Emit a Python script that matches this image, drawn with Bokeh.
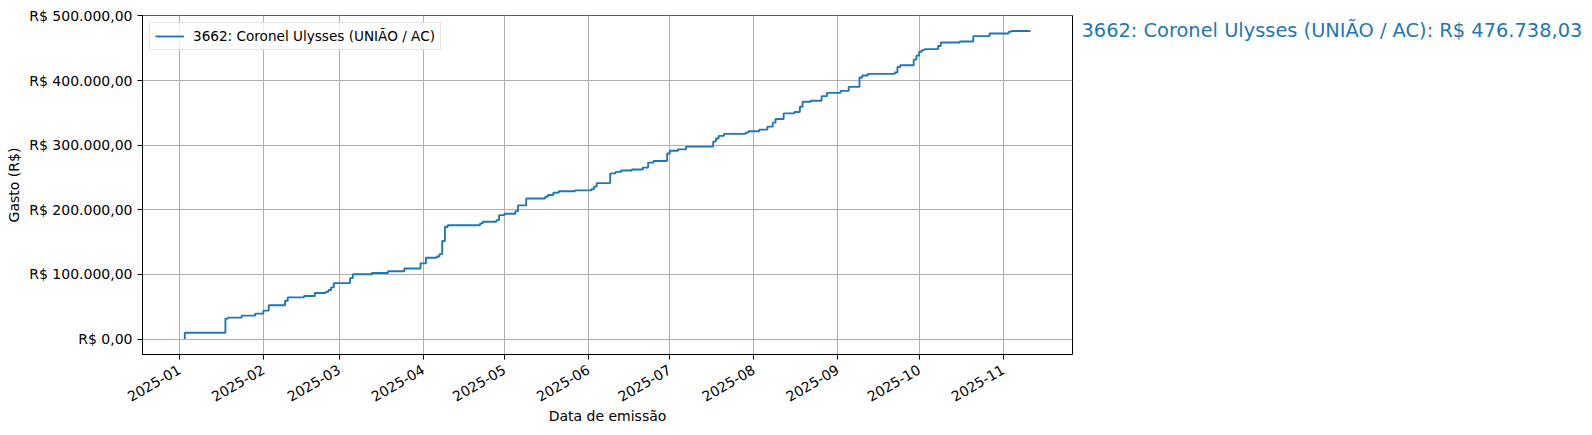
import pandas as pd
from bokeh.plotting import figure
from bokeh.layouts import row
from bokeh.models import Range1d, FixedTicker
from bokeh.core.properties import value
from bokeh.embed import file_html
from bokeh.resources import INLINE

# ---- data ----
dates = [
    "2025-01-03", "2025-01-03", "2025-01-18", "2025-01-19", "2025-01-24", "2025-01-29",
    "2025-02-01", "2025-02-03", "2025-02-09", "2025-02-10", "2025-02-16", "2025-02-20",
    "2025-02-24", "2025-02-25", "2025-02-26", "2025-02-27", "2025-03-05", "2025-03-06",
    "2025-03-13", "2025-03-19", "2025-03-25", "2025-03-31", "2025-04-02", "2025-04-06",
    "2025-04-07", "2025-04-08", "2025-04-09", "2025-04-10", "2025-04-22", "2025-04-23",
    "2025-04-28", "2025-04-29", "2025-05-01", "2025-05-05", "2025-05-06", "2025-05-09",
    "2025-05-16", "2025-05-17", "2025-05-19", "2025-05-21", "2025-05-27", "2025-06-02",
    "2025-06-03", "2025-06-04", "2025-06-09", "2025-06-11", "2025-06-13", "2025-06-17",
    "2025-06-21", "2025-06-23", "2025-06-25", "2025-06-30", "2025-07-01", "2025-07-04",
    "2025-07-07", "2025-07-17", "2025-07-18", "2025-07-19", "2025-07-21", "2025-07-29",
    "2025-07-30", "2025-08-03", "2025-08-06", "2025-08-08", "2025-08-09", "2025-08-12",
    "2025-08-16", "2025-08-18", "2025-08-19", "2025-08-22", "2025-08-26", "2025-08-28",
    "2025-09-02", "2025-09-05", "2025-09-09", "2025-09-10", "2025-09-12", "2025-09-22",
    "2025-09-23", "2025-09-24", "2025-09-29", "2025-09-30", "2025-10-01", "2025-10-02",
    "2025-10-03", "2025-10-08", "2025-10-09", "2025-10-16", "2025-10-21", "2025-10-27",
    "2025-11-03", "2025-11-04", "2025-11-11",
]
cumulative = [
    0, 9700, 31700, 33200, 36300, 39400,
    44000, 52300, 59400, 64600, 66600, 71200,
    73000, 76000, 80000, 86600, 94300, 100300,
    102200, 105000, 109100, 117200, 125800, 127700,
    131400, 151700, 173500, 176000, 179000, 181500,
    184000, 191700, 194000, 197900, 206800, 217600,
    220200, 222800, 226300, 228700, 230000, 231700,
    235800, 241200, 256400, 258600, 260700, 262300,
    265300, 273000, 275600, 287100, 291400, 293500,
    297800, 305500, 310200, 314300, 317400, 319400,
    321500, 324000, 328600, 334800, 340500, 349200,
    351200, 359400, 367100, 368600, 375800, 380900,
    384000, 390200, 404600, 407700, 410200, 412300,
    420900, 423500, 432300, 438500, 444600, 447000,
    448500, 453500, 458700, 460300, 468600, 472800,
    475400, 476500, 476738.03,
]
series_label = "3662: Coronel Ulysses (UNIÃO / AC)"
total_text = "3662: Coronel Ulysses (UNIÃO / AC): R$ 476.738,03"

x_tick_dates = ["2025-01-01", "2025-02-01", "2025-03-01", "2025-04-01", "2025-05-01",
                "2025-06-01", "2025-07-01", "2025-08-01", "2025-09-01", "2025-10-01",
                "2025-11-01"]
x_tick_labels = ["2025-01", "2025-02", "2025-03", "2025-04", "2025-05", "2025-06",
                 "2025-07", "2025-08", "2025-09", "2025-10", "2025-11"]
y_ticks = [0, 100000, 200000, 300000, 400000, 500000]
y_tick_labels = ["R$ 0,00", "R$ 100.000,00", "R$ 200.000,00", "R$ 300.000,00",
                 "R$ 400.000,00", "R$ 500.000,00"]

BLUE = "#1f77b4"
FONT = "DejaVu Sans"

x = pd.to_datetime(dates)
y = cumulative

# matplotlib-like 5% margins
x0, x1 = x.min(), x.max()
span = x1 - x0
xr = Range1d(start=x0 - span * 0.05, end=x1 + span * 0.05)
ymin, ymax = min(y), max(y)
yspan = ymax - ymin
yr = Range1d(start=ymin - 0.05 * yspan, end=ymax + 0.05 * yspan)

H = 433
TOP = 15
BOTTOM = 79

p = figure(width=1081, height=H, x_axis_type="datetime", x_range=xr, y_range=yr,
           output_backend="svg", toolbar_location=None,
           min_border_left=142, min_border_right=9, min_border_top=TOP,
           min_border_bottom=BOTTOM)

p.step(x, y, mode="after", line_color=BLUE, line_width=1.9,
       legend_label=series_label)

def ms(d):
    return int(pd.Timestamp(d).value // 10**6)

xt = [ms(d) for d in x_tick_dates]
p.xaxis.ticker = FixedTicker(ticks=xt)
p.xaxis.major_label_overrides = {t: lab for t, lab in zip(xt, x_tick_labels)}
p.yaxis.ticker = FixedTicker(ticks=y_ticks)
p.yaxis.major_label_overrides = {t: lab for t, lab in zip(y_ticks, y_tick_labels)}
p.xaxis.major_label_orientation = 0.5236

for ax in (p.xaxis, p.yaxis):
    ax.major_label_text_font = FONT
    ax.major_label_text_font_size = "14px"
    ax.major_label_text_color = "black"
    ax.axis_label_text_font = FONT
    ax.axis_label_text_font_size = "14px"
    ax.axis_label_text_font_style = "normal"
    ax.axis_label_text_color = "black"
    ax.major_tick_out = 5
    ax.major_tick_in = 0
    ax.minor_tick_out = 0
    ax.minor_tick_in = 0
    ax.major_tick_line_color = "black"
    ax.axis_line_color = "black"
    ax.major_label_standoff = 5

p.xaxis.major_label_standoff = 9
p.xaxis.axis_label = "Data de emissão"
p.yaxis.axis_label = "Gasto (R$)"
p.yaxis.axis_label_standoff = 4
p.xaxis.axis_label_standoff = -1

p.grid.grid_line_color = "#b0b0b0"
p.grid.grid_line_width = 1
p.xgrid.ticker = p.xaxis.ticker
p.ygrid.ticker = p.yaxis.ticker
p.outline_line_color = "black"
p.outline_line_width = 1
p.background_fill_color = "white"
p.border_fill_color = "white"

leg = p.legend[0]
leg.location = "top_left"
leg.margin = 7
leg.padding = 5
leg.spacing = 0
leg.glyph_width = 29
leg.glyph_height = 16
leg.label_height = 16
leg.label_standoff = 9
leg.label_text_font = FONT
leg.label_text_font_size = "13.6px"
leg.label_text_color = "black"
leg.border_line_color = "#cccccc"
leg.border_line_width = 1
leg.background_fill_alpha = 0.8

# side panel holding the total annotation (outside the axes, as in the original)
p2 = figure(width=503, height=H, x_range=Range1d(0, 1), y_range=yr,
            output_backend="svg", toolbar_location=None,
            min_border_left=0, min_border_right=0, min_border_top=TOP,
            min_border_bottom=BOTTOM)
p2.axis.visible = False
p2.grid.visible = False
p2.outline_line_color = None
p2.text(x=[0], y=[ymax], text=[total_text], text_font=value(FONT),
        text_font_size=value("19.4px"), text_color=BLUE, text_baseline="middle",
        text_align="left")

layout = row(p, p2, spacing=0)
open("out.html", "w").write(file_html(layout, INLINE))
